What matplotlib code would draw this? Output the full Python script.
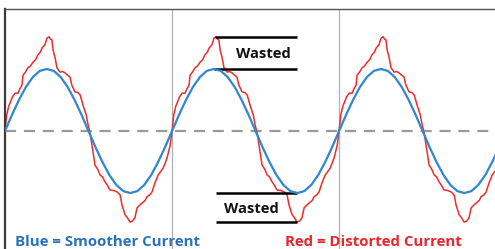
import numpy as np
import matplotlib
matplotlib.use("Agg")
from matplotlib import pyplot as plt

# one cycle, phase in degrees, value in units of the smooth amplitude
blue_phase = [0, 15, 30, 45, 60, 75, 90, 105, 120, 135, 150, 165, 180,
              195, 210, 225, 240, 255, 270, 285, 300, 315, 330, 345, 360]
blue_val = [0, .26, .50, .71, .87, .97, 1.0, .97, .87, .71, .50, .26, 0,
            -.26, -.50, -.71, -.87, -.97, -1.0, -.97, -.87, -.71, -.50, -.26, 0]

red_phase = [0, 3.7, 8, 10.8, 16, 21.6, 28, 32, 36.6, 38.8, 44, 49.6, 55, 60.4, 66,
             71, 76, 80, 86, 90.5, 95, 98, 101, 103.5, 108, 112, 118.6, 124, 129,
             135, 140, 144, 151, 157, 162, 168, 175, 179, 183, 187.5, 194, 200, 205,
             210, 215.6, 221, 226, 234, 241, 248, 252, 258.7, 264, 269.5, 275, 280,
             284.6, 291, 297.5, 302, 306, 312, 317, 323, 330, 335, 340.6, 345, 349,
             356, 360]
red_val = [0, .26, .40, .45, .55, .61, .61, .68, .74, .90, .95, 1.02, 1.05, 1.11, 1.15,
           1.23, 1.27, 1.34, 1.39, 1.50, 1.52, 1.48, 1.47, 1.31, 1.18, 1.02, .95, .96, .94,
           .90, .87, .74, .63, .62, .58, .42, .26, .10, -.02, -.23, -.55, -.62, -.71,
           -.74, -.82, -.88, -.95, -.96, -.98, -1.03, -1.19, -1.35, -1.40, -1.47, -1.45, -1.40,
           -1.24, -1.19, -1.15, -1.12, -1.06, -1.03, -.98, -.84, -.71, -.66, -.60, -.52, -.44,
           -.23, 0]

n_cycles = 3
top_text = "Wasted"
legend_blue = "Blue = Smoother Current"
legend_red = "Red = Distorted Current"

BLUE = "#2f87d2"
RED = "#ef2b2b"

def tile(ph, v):
    x = np.concatenate([np.array(ph) + 360 * k for k in range(n_cycles)])
    y = np.tile(v, n_cycles)
    return x, y

bx, by = tile(blue_phase, blue_val)
rx, ry = tile(red_phase, red_val)

fig = plt.figure(figsize=(4.95, 2.49), dpi=100)
ax = fig.add_axes([5 / 495, 0, 490 / 495, 240 / 249])

for k in range(1, n_cycles):
    ax.axvline(360 * k, color="#b0b0b0", lw=0.9, zorder=1)
ax.axhline(0, color="#9a9a9a", lw=1.6, dashes=(5, 3.5), zorder=1)

ax.plot(bx, by, color=BLUE, lw=1.6, zorder=3)
ax.plot(rx, ry, color=RED, lw=1.1, zorder=2)

# "Wasted" markers on the second cycle
font = dict(family=["Open Sans", "DejaVu Sans"], weight="bold")
x0, x1 = 450, 629
ax.plot([x0 + 3, x1], [max(red_val)] * 2, color="black", lw=1.8, solid_capstyle="butt")
ax.plot([x0, x1], [max(blue_val)] * 2, color="black", lw=1.8, solid_capstyle="butt")
ax.text(556, 1.25, top_text, ha="center", va="center", fontsize=10.6, color="#111111", **font)
ax.plot([x0 + 5, x1], [min(blue_val)] * 2, color="black", lw=1.8, solid_capstyle="butt")
ax.plot([x0 + 5, x1], [min(red_val)] * 2, color="black", lw=1.8, solid_capstyle="butt")
ax.text(530, -1.25, top_text, ha="center", va="center", fontsize=10.6, color="#111111", **font)

ax.text(10 / 490, 0.03, legend_blue, transform=ax.transAxes, ha="left", va="center",
        fontsize=10.8, color="#2b72bd", **font)
ax.text(280 / 490, 0.03, legend_red, transform=ax.transAxes, ha="left", va="center",
        fontsize=10.8, color="#e8262c", **font)

ax.set_xlim(0, 1056)
ax.set_ylim(-1.903, 1.968)
ax.set_xticks([])
ax.set_yticks([])
ax.spines["right"].set_visible(False)
ax.spines["bottom"].set_visible(False)
ax.spines["left"].set_color("#3a3a3a")
ax.spines["left"].set_linewidth(1.6)
ax.spines["top"].set_color("#555555")
ax.spines["top"].set_linewidth(1.0)

fig.savefig("out.png", dpi=100)
